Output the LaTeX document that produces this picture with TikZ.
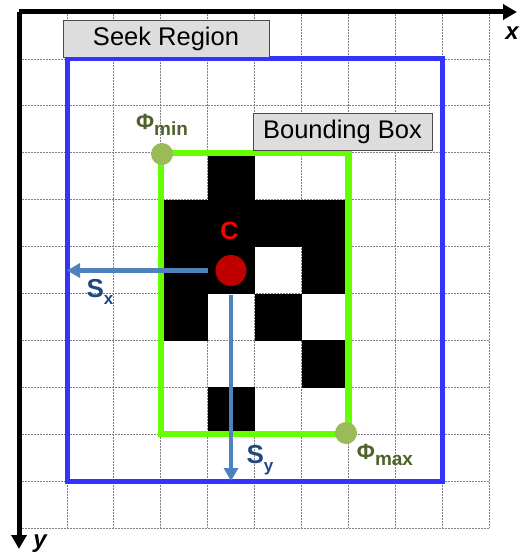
\documentclass[tikz,border=0pt]{standalone}
\usepackage{fontspec}
\setmainfont{Liberation Sans}
\usetikzlibrary{arrows.meta}
\definecolor{seekblue}{HTML}{3333FF}
\definecolor{bbgreen}{HTML}{66FF00}
\definecolor{phidot}{HTML}{9BBB59}
\definecolor{phitext}{HTML}{4F6228}
\definecolor{arrblue}{HTML}{4F81BD}
\definecolor{stext}{HTML}{1F497D}
\definecolor{cred}{HTML}{C00000}
\definecolor{boxgray}{HTML}{DDDDDD}
\tikzset{
  gridline/.style={gray, line width=0.9pt, dash pattern=on 0.8pt off 0.7pt},
  labelbox/.style={draw=black!70, fill=boxgray, line width=0.8pt, minimum height=37pt, inner sep=0pt, font=\fontsize{25.5}{28}\selectfont},
  axisline/.style={line width=5pt, -{Triangle[length=14pt,width=15pt]}},
  sarrow/.style={arrblue, line width=4.5pt, -{Triangle[length=13pt,width=14pt]}},
  phipoint/.style={circle, fill=phidot, minimum size=22pt, inner sep=0pt},
  philabel/.style={text=phitext, font=\bfseries\fontsize{19}{20}\selectfont, inner sep=0pt},
  slabel/.style={text=stext, font=\bfseries\fontsize{26}{28}\selectfont, inner sep=0pt},
  cell/.style={fill=black}
}
\begin{document}
\begin{tikzpicture}[x=1pt,y=-1pt]
\useasboundingbox (0,0) rectangle (520,559);
\def\ox{20.1}\def\oy{12.1}\def\s{46.9}
% grid
\foreach \i in {1,...,10}
  \draw[gridline] ({\ox+\s*\i},\oy) -- ({\ox+\s*\i},{\oy+\s*11});
\foreach \j in {1,...,11}
  \draw[gridline] (\ox,{\oy+\s*\j}) -- ({\ox+\s*10},{\oy+\s*\j});
% black cells
\foreach \i/\j in {4/3, 3/4,4/4,5/4,6/4, 3/5,4/5,6/5, 3/6,5/6, 6/7, 4/8}
  \fill[cell] ({\ox+\s*\i},{\oy+\s*\j}) rectangle ++(\s+0.3,\s+0.3);
% seek region
\draw[seekblue, line width=5pt] ({\ox+\s},{\oy+\s}) rectangle ({\ox+\s*9},{\oy+\s*10});
% bounding box
\draw[bbgreen, line width=6.5pt] ({\ox+\s*3},{\oy+\s*3}) rectangle ({\ox+\s*7},{\oy+\s*9});
% axes
\coordinate (o) at (19,12);
\coordinate (xend) at (517,12);
\coordinate (yend) at (19,549);
\draw[axisline] (o) -- (xend);
\draw[axisline] (o) -- (yend);
\node[font=\bfseries\itshape\fontsize{24}{26}\selectfont, inner sep=0pt] (xl) at (512,33) {x};
\node[font=\bfseries\itshape\fontsize{24}{26}\selectfont, inner sep=0pt] (yl) at (40,544) {y};
% label boxes
\node[labelbox, minimum width=206pt] (seek) at (166,38.5) {Seek Region};
\node[labelbox, minimum width=179pt] (bbox) at (342.5,131.5) {Bounding Box};
% phi points
\node[phipoint] (pmin) at (162,154) {};
\node[phipoint] (pmax) at (346,433) {};
\node[philabel] (pminl) at (162,125) {{\fontsize{22}{24}\selectfont Φ}\raisebox{-0.35em}{min}};
\node[philabel] (pmaxl) at (385,455) {{\fontsize{22}{24}\selectfont Φ}\raisebox{-0.35em}{max}};
% centre
\node[circle, fill=cred, minimum size=31pt, inner sep=0pt] (c) at (231,270.5) {};
\node[text=red, font=\bfseries\fontsize{25}{26}\selectfont, inner sep=0pt] (cl) at (229.5,231) {C};
\coordinate (sxend) at (67,270.5);
\coordinate (syend) at (231,481);
\draw[sarrow, shorten <=7pt] (c) -- (sxend);
\draw[sarrow, shorten <=9pt] (c) -- (syend);
\node[slabel] (sx) at (100,292) {S\raisebox{-0.3em}{\fontsize{17}{18}\selectfont x}};
\node[slabel] (sy) at (260,460) {S\raisebox{-0.3em}{\fontsize{17}{18}\selectfont y}};
\end{tikzpicture}
\end{document}
